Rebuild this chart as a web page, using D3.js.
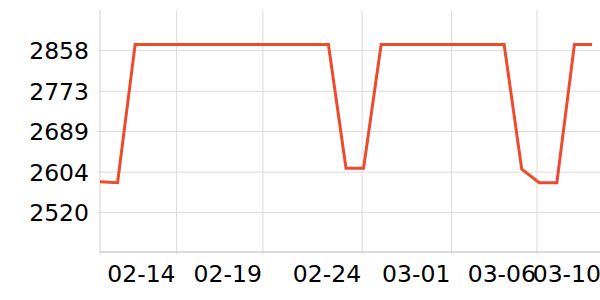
<!DOCTYPE html>
<html>
<head>
<meta charset="utf-8">
<script src="https://cdn.jsdelivr.net/npm/d3@7"></script>
<style>
body { margin: 0; background: #fff; }
svg text { font-family: "DejaVu Sans", sans-serif; }
</style>
</head>
<body>
<script>
// values, one per day
var values = [2583, 2581,
  2870, 2870, 2870, 2870, 2870, 2870, 2870, 2870, 2870, 2870, 2870, 2870,
  2611, 2611,
  2870, 2870, 2870, 2870, 2870, 2870, 2870, 2870,
  2609, 2581, 2581,
  2870, 2870]

// tick positions (in point index) and their labels
var xTickPos = [4.33, 9.24, 14.89, 19.97, 24.84, 28.54]
var xTickLabels = ['02-14', '02-19', '02-24', '03-01', '03-06', '03-10']
var yTicks = [2520, 2604, 2689, 2773, 2858]
var yDomain = [2436, 2942]

var width = 600, height = 300
// note: "top" is taken by window.top, so plot edges get their own names
var plotLeft = 100, plotRight = 592, plotTop = 10, plotBottom = 252

var svg = d3.select('body').append('svg')
  .attr('width', width)
  .attr('height', height)

var x = d3.scaleLinear()
  .domain([0, values.length - 1])
  .range([plotLeft, plotRight])

var y = d3.scaleLinear()
  .domain(yDomain)
  .range([plotBottom, plotTop])

// y axis + horizontal grid
var yAxis = svg.append('g')
  .attr('transform', 'translate(' + plotLeft + ',0)')
  .call(d3.axisLeft(y).tickValues(yTicks).tickFormat(d3.format('d')).tickSize(-(width - plotLeft)))

yAxis.select('.domain').remove()
yAxis.selectAll('.tick line')
  .attr('x1', -2)
  .attr('stroke', '#dcdcdc')
yAxis.selectAll('.tick text')
  .attr('x', -11)
  .attr('dy', '0.36em')
  .attr('fill', '#000')
  .style('font-size', '23.5px')

// x axis + vertical grid
var xAxis = svg.append('g')
  .attr('transform', 'translate(0,' + plotBottom + ')')
  .call(d3.axisBottom(x).tickValues(xTickPos)
    .tickFormat(function(d, i) { return xTickLabels[i] })
    .tickSize(-(plotBottom - plotTop)))

xAxis.select('.domain').remove()
xAxis.selectAll('.tick line')
  .attr('y1', 2)
  .attr('stroke', '#dcdcdc')
xAxis.selectAll('.tick text')
  .attr('y', 30)
  .attr('dy', 0)
  .attr('x', -1)
  .attr('text-anchor', 'end')
  .attr('fill', '#000')
  .style('font-size', '23.5px')

// axis lines
svg.append('line')
  .attr('x1', plotLeft).attr('x2', plotLeft)
  .attr('y1', plotTop).attr('y2', plotBottom + 2)
  .attr('stroke', '#cfcfcf')

svg.append('line')
  .attr('x1', plotLeft).attr('x2', width)
  .attr('y1', plotBottom).attr('y2', plotBottom)
  .attr('stroke', '#b8b8b8')

var line = d3.line()
  .x(function(d, i) { return x(i) })
  .y(function(d) { return y(d) })

svg.append('path')
  .datum(values)
  .attr('d', line)
  .attr('fill', 'none')
  .attr('stroke', '#ee4a2c')
  .attr('stroke-width', 3)
</script>
</body>
</html>
